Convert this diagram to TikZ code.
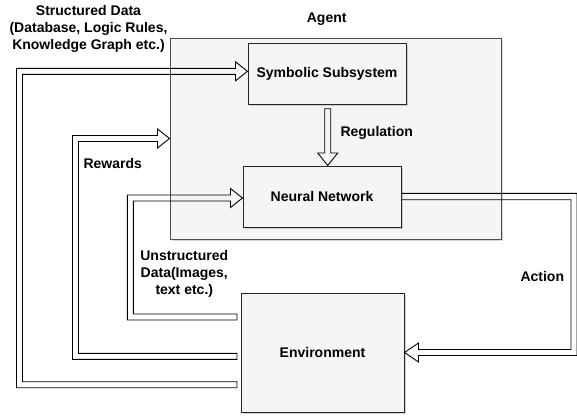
\documentclass[tikz,border=0pt]{standalone}
\usepackage{fontspec}
\setmainfont{Liberation Sans}
\usetikzlibrary{calc,shadows}
\newcommand\flexL[3]{% tail, column, tip : left, up, right
  \draw[flexarrow] ($(#1)+(0,3)$) -- ($(#2|-#1)+(-3,3)$) -- ($(#2|-#3)+(-3,-3)$)
    -- ($(#3)+(-12,-3)$) -- ($(#3)+(-12,-9.5)$) -- (#3) -- ($(#3)+(-12,9.5)$)
    -- ($(#3)+(-12,3)$) -- ($(#2|-#3)+(3,3)$) -- ($(#2|-#1)+(3,-3)$)
    -- ($(#1)+(0,-3)$) -- cycle;}
\begin{document}
\begin{tikzpicture}[x=1pt,y=-1pt,
  every node/.style={font=\bfseries\fontsize{14}{17}\selectfont, inner sep=0pt},
  box/.style={draw=black!85, fill=gray!8, line width=1pt, drop shadow={shadow xshift=1.5pt, shadow yshift=-1.5pt, fill=black!35}},
  agentbox/.style={draw=black!70, fill=gray!8, line width=1pt, drop shadow={shadow xshift=1.5pt, shadow yshift=-1.5pt, fill=black!30}},
  flexarrow/.style={draw=black, line width=0.9pt, line join=miter},
  lbl/.style={align=center}]
\useasboundingbox (0,0) rectangle (577,418);
% boxes
\node[agentbox, minimum width=331pt, minimum height=201pt] (agent) at (335.5,138.5) {};
\node[lbl] (agentlbl) at (326.7,19) {Agent};
\node[box, minimum width=158pt, minimum height=61pt] (sym) at (327,73.7) {Symbolic Subsystem};
\node[box, minimum width=158pt, minimum height=61pt] (nn) at (322,196.5) {Neural Network};
\node[box, minimum width=163pt, minimum height=119pt] (env) at (322.5,352.5) {Environment};
% labels
\node[lbl] (sdlbl) at (88.5,29.3) {Structured Data\\(Database, Logic Rules,\\Knowledge Graph etc.)};
\node[lbl] (rwlbl) at (112.7,163.3) {Rewards};
\node[lbl] (udlbl) at (184.3,274) {Unstructured\\Data(Images,\\text etc.)};
\node[lbl] (reglbl) at (376.7,133) {Regulation};
\node[lbl] (actlbl) at (542.3,276.7) {Action};
% structured data arrow
\coordinate (sdS) at (237,384.7);
\coordinate (sdX) at (19.5,0);
\coordinate (sdT) at ($(sym.west)+(0,-2.4)$);
\flexL{sdS}{sdX}{sdT}
% rewards arrow
\coordinate (rwS) at (237,356.3);
\coordinate (rwX) at (75.5,0);
\coordinate (rwT) at (agent.west);
\flexL{rwS}{rwX}{rwT}
% unstructured data arrow
\coordinate (udS) at (237,317);
\coordinate (udX) at (130.3,0);
\coordinate (udT) at ($(nn.west)+(0,1.5)$);
\flexL{udS}{udX}{udT}
% regulation arrow
\coordinate (rgS) at ($(sym.south)+(0.7,4)$);
\coordinate (rgT) at ($(sym.south)+(0.7,0)$);
\coordinate (rgT) at (rgT|-nn.north);
\draw[flexarrow] ($(rgS)+(-3,0)$) -- ($(rgT)+(-3,-12.5)$) -- ($(rgT)+(-10,-12.5)$) -- (rgT)
  -- ($(rgT)+(10,-12.5)$) -- ($(rgT)+(3,-12.5)$) -- ($(rgS)+(3,0)$) -- cycle;
% action arrow
\coordinate (acS) at (nn.east);
\coordinate (acX) at (574,0);
\coordinate (acT) at (env.east);
\draw[flexarrow] ($(acS)+(0,-3.2)$) -- ($(acX|-acS)+(3,-3.2)$) -- ($(acX|-acT)+(3,3)$)
  -- ($(acT)+(14,3)$) -- ($(acT)+(14,9.5)$) -- (acT) -- ($(acT)+(14,-9.5)$)
  -- ($(acT)+(14,-3)$) -- ($(acX|-acT)+(-3,-3)$) -- ($(acX|-acS)+(-3,3.2)$)
  -- ($(acS)+(0,3.2)$);
\end{tikzpicture}
\end{document}
